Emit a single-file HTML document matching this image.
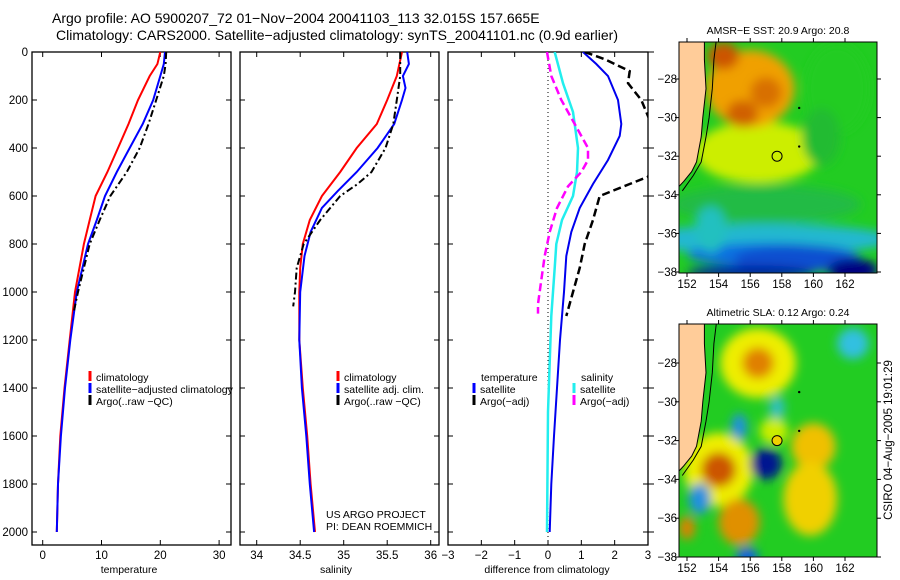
<!DOCTYPE html>
<html><head><meta charset="utf-8">
<style>
html,body{margin:0;padding:0;background:#fff;}
svg{display:block;font-family:"Liberation Sans",sans-serif;}
</style></head>
<body>
<svg id="chart" width="900" height="580" viewBox="0 0 900 580" xmlns="http://www.w3.org/2000/svg">
<defs>
<filter id="blur1" x="-20%" y="-20%" width="140%" height="140%"><feGaussianBlur stdDeviation="5"/></filter>
<clipPath id="clipM1"><rect x="679" y="42" width="198" height="231"/></clipPath>
<clipPath id="clipM2"><rect x="679" y="324" width="198" height="233"/></clipPath>
<clipPath id="clipP3"><rect x="448" y="52" width="200" height="493"/></clipPath>
</defs>
<text x="52" y="23" font-size="14" text-anchor="start">Argo profile: AO 5900207_72 01−Nov−2004 20041103_113 32.015S 157.665E</text>
<text x="56" y="40" font-size="14" text-anchor="start">Climatology: CARS2000. Satellite−adjusted climatology: synTS_20041101.nc (0.9d earlier)</text>
<g id="g"></g>
</svg>
<script>
// ---------- data ----------
const depthTicks=[0,200,400,600,800,1000,1200,1400,1600,1800,2000];
const tempTicks=[0,10,20,30];
const salTicks=[34,34.5,35,35.5,36];
const salTickLabels=["34","34.5","35","35.5","36"];
const diffTicks=[-3,-2,-1,0,1,2,3];
// temperature profiles
const tClimDepth=[0,50,100,200,300,400,500,600,700,800,1000,1200,1400,1600,1800,2000];
const tClimVal=[20,19.5,18.2,16.2,14.6,12.8,11,9,8,7,5.5,4.6,3.7,3.0,2.6,2.4];
const tSatDepth=[0,50,100,200,300,400,500,600,700,800,1000,1200,1400,1600,1800,2000];
const tSatVal=[20.8,20.6,20,18.8,17,14.8,12.6,10.6,9.2,7.7,5.8,4.7,3.8,3.1,2.6,2.4];
const tArgoDepth=[0,50,100,200,300,400,500,600,700,800,1000,1080];
const tArgoVal=[21,20.9,20.6,19.3,18,16.5,14.3,11.5,9.7,8.0,6.0,5.3];
// salinity profiles
const sClimDepth=[0,100,200,300,400,500,600,700,800,900,1000,1200,1400,1600,1800,2000];
const sClimVal=[35.67,35.61,35.5,35.38,35.15,34.96,34.75,34.61,34.53,34.5,34.49,34.49,34.53,34.58,34.62,34.67];
const sSatDepth=[0,50,100,150,200,300,400,500,580,650,750,850,1000,1200,1400,1600,1800,2000];
const sSatVal=[35.73,35.75,35.68,35.71,35.67,35.58,35.39,35.15,34.93,34.75,34.62,34.55,34.5,34.49,34.52,34.57,34.61,34.66];
const sArgoDepth=[0,100,200,300,400,500,550,600,700,800,900,1000,1060];
const sArgoVal=[35.65,35.65,35.61,35.57,35.48,35.32,35.16,34.96,34.73,34.54,34.46,34.44,34.42];
// differences
const dTSatDepth=[0,50,100,200,300,350,450,550,650,750,850,1000,1100,1200,1400,1600,1800,2000];
const dTSatVal=[1.05,1.45,1.8,2.1,2.2,2.15,1.8,1.35,0.95,0.7,0.55,0.48,0.42,0.36,0.27,0.18,0.1,0.05];
const dTArgoDepth=[0,30,80,130,200,300,450,520,550,600,700,800,900,1000,1100];
const dTArgoVal=[1.1,1.7,2.45,2.4,2.8,3.1,3.2,3.0,2.45,1.55,1.35,1.1,0.95,0.75,0.55];
const dSSatDepth=[0,130,250,400,500,600,700,800,900,1000,1100,1500,2000];
const dSSatVal=[0.2,0.45,0.75,0.9,0.87,0.75,0.42,0.25,0.2,0.15,0.1,0,-0.03];
const dSArgoDepth=[0,100,200,300,400,450,500,560,650,750,850,950,1050,1090];
const dSArgoVal=[-0.03,0.1,0.4,0.8,1.2,1.2,1.0,0.6,0.27,0.05,-0.1,-0.2,-0.3,-0.3];
// maps
const lonTicks=[152,154,156,158,160,162];
const latTicks=[-28,-30,-32,-34,-36,-38];
const sstBlobLon=[157,156.5,156,155.5,154.3,157,161.5,157,157,159,162.5,156,153.5,160.5];
const sstBlobLat=[-34.5,-31.8,-28.5,-29.8,-26.8,-28.7,-28.5,-36.3,-37.1,-37.3,-37.9,-38,-35.8,-31];
const sstBlobRx=[6,4,2.8,1,1,1,2,8,5,4,1.6,4,1,1.2];
const sstBlobRy=[1,1.6,2,0.7,0.7,0.8,2.3,0.8,0.6,0.7,0.6,0.35,1.2,1.5];
const sstBlobColor=["#22bb44","#ccee00","#f0a000","#d06000","#cc5500","#d87000","#22cc22","#20b8d0","#1070e0","#1050d0","#000080","#0020a0","#20c0c0","#22bb33"];
const slaBlobLon=[156.5,156.5,154,154,155.3,160,159.8,157.5,157,155.3,152.8,162.5,155.8,152,157.7];
const slaBlobLat=[-28,-28,-33.5,-33.5,-36.2,-32.3,-35,-31.5,-33.2,-31.3,-35,-27,-38,-36.5,-30.3];
const slaBlobRx=[2.4,1,2.2,1.1,1.3,1.4,1.7,0.9,1,0.5,0.7,1,0.7,0.5,0.5];
const slaBlobRy=[1.8,0.8,1.9,0.9,1.2,1.2,1.9,0.7,0.8,0.7,0.8,0.8,0.5,0.6,0.6];
const slaBlobColor=["#eeee00","#e08000","#eeee00","#cc5500","#e09000","#f0c000","#f0d000","#ccee00","#001890","#2090e0","#2090e0","#30c0e0","#1060e0","#e08000","#30c0c0"];
const argoLon=157.7, argoLat=-32.0;

// ---------- helpers ----------
const NS="http://www.w3.org/2000/svg";
const G=document.getElementById('g');
function el(tag,attrs,parent){const e=document.createElementNS(NS,tag);for(const k in attrs)e.setAttribute(k,attrs[k]);(parent||G).appendChild(e);return e;}
function txt(x,y,s,size,anchor,parent){const t=el('text',{x:x,y:y,'font-size':size,'text-anchor':anchor||'middle'},parent);t.textContent=s;return t;}
const yD=d=>52+d*0.24;
const xT=v=>42.7+v*5.88;
const xS=v=>256.7+(v-34)*87;
const xDf=v=>548+v*33.33;
function line(xs,ys,xf,color,w,dash,name,parent){
  const p=xs.map((v,i)=>xf(v).toFixed(1)+','+yD(ys[i]).toFixed(1)).join(' ');
  const e=el('polyline',{points:p,fill:'none',stroke:color,'stroke-width':w},parent);
  if(dash)e.setAttribute('stroke-dasharray',dash);
  
  
  return e;
}
function frame(x0,x1,name){
  const r=el('rect',{x:x0,y:52,width:x1-x0,height:493,fill:'none',stroke:'#000','stroke-width':1.3});
  
  
  depthTicks.forEach(d=>{
    el('line',{x1:x0,x2:x0+5,y1:yD(d),y2:yD(d),stroke:'#000'});
    el('line',{x1:x1,x2:x1-5,y1:yD(d),y2:yD(d),stroke:'#000'});
  });
}
function xticks(ticks,labels,xf,name){
  ticks.forEach((t,i)=>{
    const x=xf(t);
    el('line',{x1:x,x2:x,y1:545,y2:540,stroke:'#000'});
    el('line',{x1:x,x2:x,y1:52,y2:57,stroke:'#000'});
    const l=txt(x,559,labels[i],11.5);
    
    
  });
}
function legendEntry(x,y,color,label,name){
  el('line',{x1:x,x2:x,y1:y-10,y2:y,stroke:color,'stroke-width':3});
  const t=txt(x+6,y,label,10.5,'start');
  
  
}

// ---------- panel 1: temperature ----------
frame(32,231,'temperature-panel');
depthTicks.forEach(d=>{
  const l=txt(28,yD(d)+4,String(d),11.5,'end');
  
  
});
xticks(tempTicks,tempTicks.map(String),xT,'temperature');
let a=txt(129,573,'temperature',10.5);
line(tClimVal,tClimDepth,xT,'#f00',2,null,'temp-climatology-line');
line(tSatVal,tSatDepth,xT,'#00f',2,null,'temp-satellite-line');
line(tArgoVal,tArgoDepth,xT,'#000',2,'7,3,2,3','temp-argo-line');
legendEntry(90,381,'#f00','climatology','legend-climatology');
legendEntry(90,393,'#00f','satellite−adjusted climatology','legend-satellite-adjusted');
legendEntry(90,405,'#000','Argo(..raw −QC)','legend-argo');

// ---------- panel 2: salinity ----------
frame(240,439,'salinity-panel');
xticks(salTicks,salTickLabels,xS,'salinity');
a=txt(336,573,'salinity',10.5);
line(sClimVal,sClimDepth,xS,'#f00',2,null,'sal-climatology-line');
line(sSatVal,sSatDepth,xS,'#00f',2,null,'sal-satellite-line');
line(sArgoVal,sArgoDepth,xS,'#000',2,'7,3,2,3','sal-argo-line');
legendEntry(338,381,'#f00','climatology','legend-sal-climatology');
legendEntry(338,393,'#00f','satellite adj. clim.','legend-sal-satellite');
legendEntry(338,405,'#000','Argo(..raw −QC)','legend-sal-argo');
a=txt(326,518,'US ARGO PROJECT',10.5,'start');
a=txt(326,530,'PI: DEAN ROEMMICH',10.5,'start');

// ---------- panel 3: differences ----------
frame(448,648,'difference-panel');
depthTicks.forEach(d=>el('line',{x1:648,x2:654,y1:yD(d),y2:yD(d),stroke:'#000'}));
xticks(diffTicks,diffTicks.map(v=>v<0?'−'+(-v):String(v)),xDf,'difference');
a=txt(547,573,'difference from climatology',10.5);
el('line',{x1:548,x2:548,y1:52,y2:545,stroke:'#000','stroke-width':1,'stroke-dasharray':'1,3'});
const cp=el('g',{'clip-path':'url(#clipP3)'});
line(dSSatVal,dSSatDepth,xDf,'#22eeee',2.5,null,'salinity-satellite-diff-line',cp);
line(dSArgoVal,dSArgoDepth,xDf,'#ff00ff',2.5,'8,4','salinity-argo-diff-line',cp);
line(dTSatVal,dTSatDepth,xDf,'#0000ee',2,null,'temperature-satellite-diff-line',cp);
line(dTArgoVal,dTArgoDepth,xDf,'#000',2.5,'8,4','temperature-argo-diff-line',cp);
a=txt(481,381,'temperature',10.5,'start');
legendEntry(474,393,'#00f','satellite','legend-temp-satellite');
legendEntry(474,405,'#000','Argo(−adj)','legend-temp-argo');
a=txt(581,381,'salinity',10.5,'start');
legendEntry(574,393,'#22eeee','satellite','legend-sal-sat-diff');
legendEntry(574,405,'#ff00ff','Argo(−adj)','legend-sal-argo-diff');

// ---------- maps ----------
function map(y0,y1,latTop,latPx,clipId,blobLon,blobLat,blobRx,blobRy,blobColor,base,title,name,dotFill){
  const xL=v=>687+(v-152)*15.8;
  const yL=v=>latTop+(-28-v)*latPx;
  const g=el('g',{'clip-path':'url(#'+clipId+')'});
  
  
  el('rect',{x:679,y:y0,width:198,height:y1-y0,fill:base},g);
  const bg=el('g',{filter:'url(#blur1)'},g);
  blobLon.forEach((lo,i)=>{
    const e=el('ellipse',{cx:xL(lo),cy:yL(blobLat[i]),rx:blobRx[i]*15.8,ry:blobRy[i]*latPx,fill:blobColor[i]},bg);
    
    
  });
  const land=[[151,-25],[153.1,-25],[153.1,-27],[153.2,-28.5],[153,-30],[152.9,-31],[152.6,-32.3],[152.3,-32.8],[151.8,-33.3],[151,-34],[151,-40]];
  const lp=land.map(p=>xL(p[0]).toFixed(1)+','+yL(p[1]).toFixed(1)).join(' ');
  const lpoly=el('polygon',{points:lp,fill:'#ffcc99',stroke:'#000','stroke-width':1},g);
  
  
  const shelf=[[154,-25],[153.7,-27],[153.6,-28.5],[153.4,-30],[153.2,-31],[152.9,-32.3],[152.4,-33],[151.7,-33.8]];
  el('polyline',{points:shelf.map(p=>xL(p[0]).toFixed(1)+','+yL(p[1]).toFixed(1)).join(' '),fill:'none',stroke:'#000','stroke-width':1},g);
  el('circle',{cx:xL(159.1),cy:yL(-29.5),r:1.2,fill:'#000'},g);
  el('circle',{cx:xL(159.1),cy:yL(-31.5),r:1.2,fill:'#000'},g);
  const dot=el('circle',{cx:xL(argoLon),cy:yL(argoLat),r:5,fill:dotFill,stroke:'#000','stroke-width':1});
  
  
  el('rect',{x:679,y:y0,width:198,height:y1-y0,fill:'none',stroke:'#000','stroke-width':1});
  lonTicks.forEach(v=>{
    const x=xL(v);
    el('line',{x1:x,x2:x,y1:y1,y2:y1+4,stroke:'#000'});
    el('line',{x1:x,x2:x,y1:y0,y2:y0-4,stroke:'#000'});
    const t=txt(x,y1+15,String(v),11.5);
    
    
  });
  latTicks.forEach(v=>{
    const y=yL(v);
    el('line',{x1:679,x2:675,y1:y,y2:y,stroke:'#000'});
    el('line',{x1:877,x2:881,y1:y,y2:y,stroke:'#000'});
    const t=txt(677,y+4,'−'+(-v),11.5,'end');
    
    
  });
  const tt=txt(778,y0-8,title,10.5);
  
  
}
map(42,273,79,19.3,'clipM1',sstBlobLon,sstBlobLat,sstBlobRx,sstBlobRy,sstBlobColor,'#22cc22','AMSR−E SST: 20.9 Argo: 20.8','sst-map','none');
map(324,557,363,19.4,'clipM2',slaBlobLon,slaBlobLat,slaBlobRx,slaBlobRy,slaBlobColor,'#22cc22','Altimetric SLA: 0.12 Argo: 0.24','sla-map','#f0d000');
const st=txt(0,0,'CSIRO 04−Aug−2005 19:01:29',11.5);
st.setAttribute('transform','translate(892,440) rotate(-90)');


</script>
</body></html>
